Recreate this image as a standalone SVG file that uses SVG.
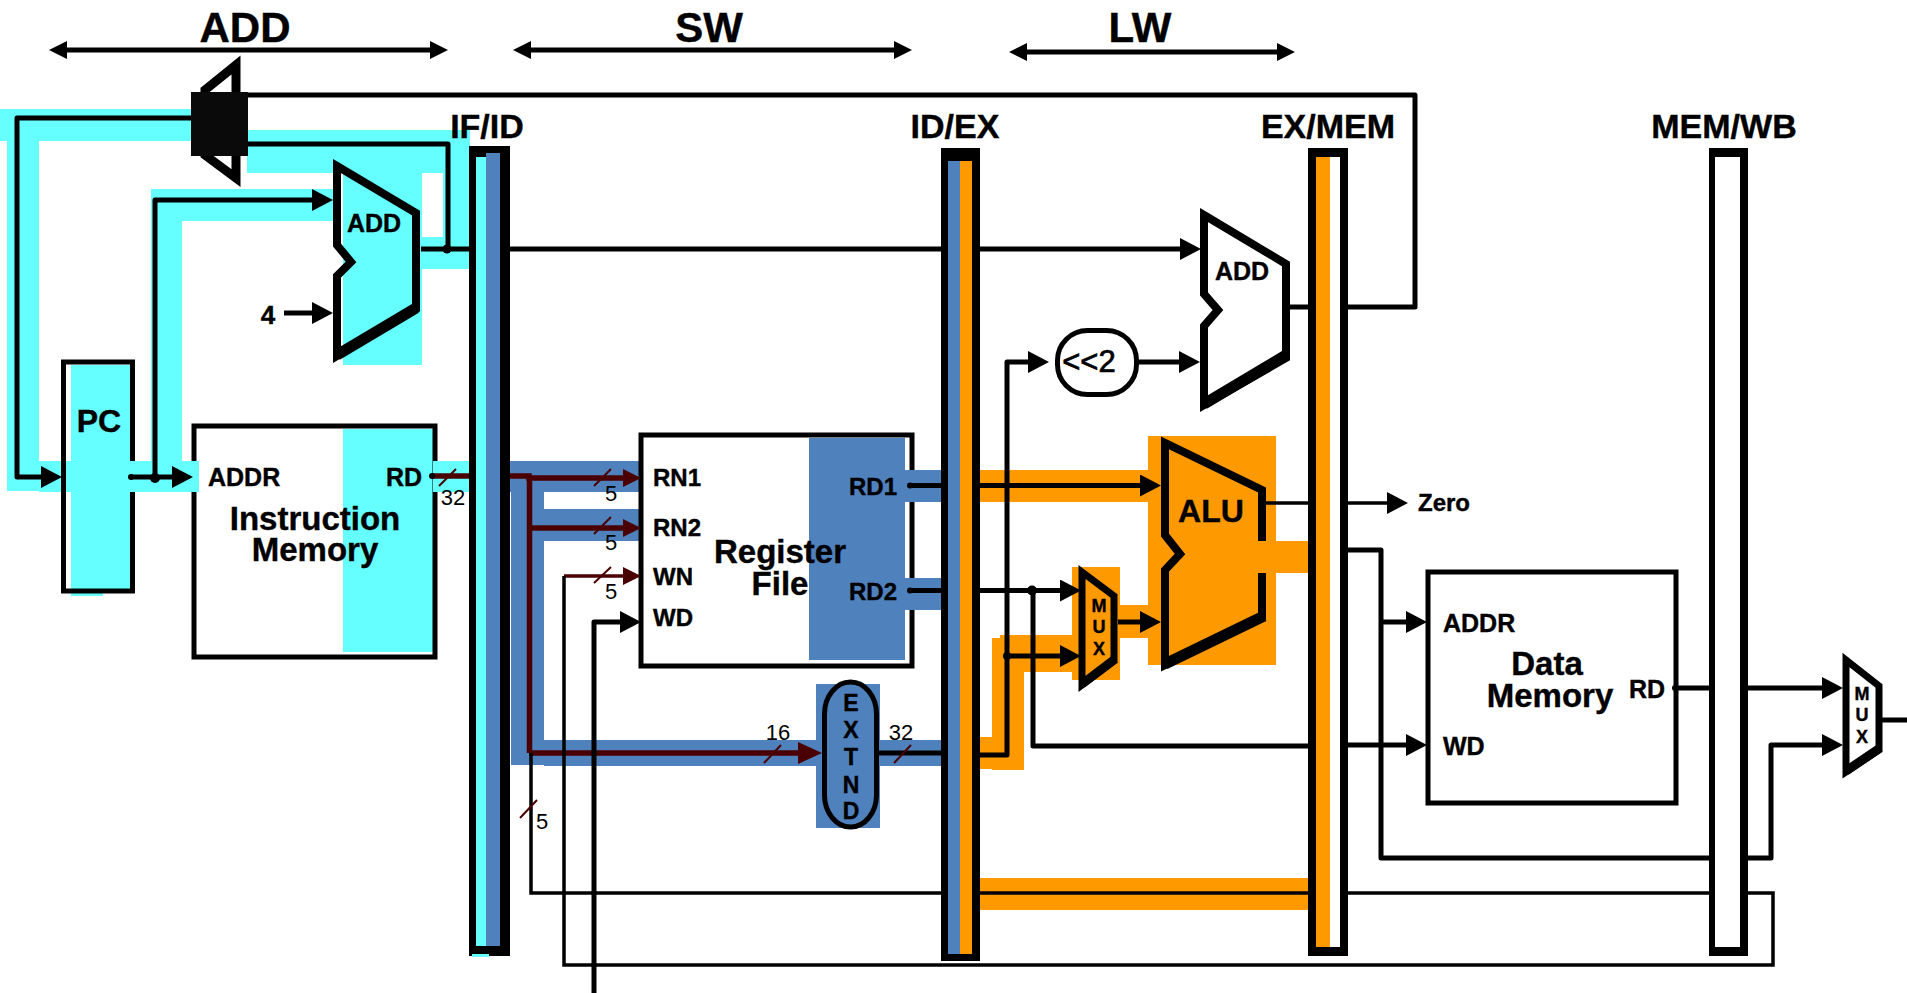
<svg xmlns="http://www.w3.org/2000/svg" width="1907" height="993" viewBox="0 0 1907 993">
<style>
text{font-family:"Liberation Sans",Arial,sans-serif;font-weight:700;fill:#000;stroke:#000;stroke-width:.4}
.m{text-anchor:middle}
.h{font-size:42px}.r{font-size:34px}.b{font-size:33px}.p{font-size:25px}.q{font-size:24px}.x{font-size:18px}.e{font-size:23px}
.n{font-size:22px;font-weight:400;stroke:none}
.c{fill:#66FFFF}.u{fill:#4F81BD}.o{fill:#FF9900}
.box{fill:none;stroke:#000;stroke-width:5}
.sh{fill:none;stroke:#000;stroke-width:8;stroke-linejoin:miter}
.th{fill:none;stroke:#000;stroke-width:11}
.w{fill:none;stroke:#000;stroke-width:5;stroke-linejoin:round;stroke-linecap:butt}
.t{fill:none;stroke:#000;stroke-width:3.5}
.d{fill:none;stroke:#4A0000;stroke-width:5.5}
.dt{fill:none;stroke:#4A0000;stroke-width:3.5}
.s{stroke:#4A0000;stroke-width:2;fill:none}
.a{marker-end:url(#ah)}
.ra{marker-end:url(#rh)}
</style>
<defs>
<marker id="ah" markerUnits="userSpaceOnUse" markerWidth="21" markerHeight="22" refX="0" refY="11" orient="auto"><path d="M0 0L21 11L0 22z" fill="#000"/></marker>
<marker id="rh" markerUnits="userSpaceOnUse" markerWidth="18" markerHeight="18" refX="0" refY="9" orient="auto"><path d="M0 0L18 9L0 18z" fill="#4A0000"/></marker>
<marker id="rb" markerUnits="userSpaceOnUse" markerWidth="24" markerHeight="22" refX="0" refY="11" orient="auto"><path d="M0 0L24 11L0 22z" fill="#4A0000"/></marker>
<marker id="tb" markerUnits="userSpaceOnUse" markerWidth="18" markerHeight="18" refX="0" refY="9" orient="auto-start-reverse"><path d="M0 0L18 9L0 18z" fill="#000"/></marker>
</defs>
<rect width="1907" height="993" fill="#fff"/>

<g id="highlights">
<rect class="c" x="0" y="109" width="192" height="32"/>
<rect class="c" x="7" y="141" width="32" height="350"/>
<rect class="c" x="39" y="461" width="90" height="31"/>
<rect class="c" x="71" y="365" width="60" height="226"/>
<rect class="c" x="71" y="591" width="32" height="5"/>
<rect class="c" x="151" y="189" width="184" height="32"/>
<rect class="c" x="151" y="221" width="31" height="240"/>
<rect class="c" x="247" y="130" width="223" height="43"/>
<rect class="c" x="443" y="173" width="27" height="96"/>
<rect class="c" x="343" y="173" width="79" height="192"/>
<rect class="c" x="422" y="237" width="30" height="32"/>
<rect class="c" x="343" y="429" width="90" height="223"/>
<rect class="u" x="511" y="492" width="33" height="273"/>
<rect class="u" x="510" y="461" width="130" height="31"/>
<rect class="u" x="544" y="509" width="96" height="32"/>
<rect class="u" x="544" y="740" width="272" height="26"/>
<rect class="u" x="809" y="438" width="96" height="222"/>
<rect class="u" x="880" y="740" width="61" height="26"/>
<rect class="u" x="816" y="684" width="64" height="144"/>
<rect class="o" x="980" y="470" width="168" height="32"/>
<rect class="o" x="980" y="737" width="44" height="32"/>
<rect class="o" x="992" y="638" width="32" height="132"/>
<rect class="o" x="1000" y="635" width="72" height="37"/>
<rect class="o" x="1072" y="567" width="48" height="113"/>
<rect class="o" x="1120" y="605" width="28" height="33"/>
<rect class="o" x="1148" y="436" width="128" height="229"/>
<rect class="o" x="1276" y="541" width="32" height="32"/>
<rect class="o" x="980" y="878" width="328" height="32"/>
</g>

<g id="pc">
<rect class="box" x="63.500" y="362" width="69" height="229"/>
<text class="m" x="99" y="432" font-size="32">PC</text>
</g>
<g id="instruction-memory">
<rect class="box" x="194" y="426" width="241" height="231"/>
<text class="p" x="208" y="486">ADDR</text>
<text class="p" x="386" y="486">RD</text>
<text class="b m" x="315" y="530">Instruction</text>
<text class="b m" x="315" y="561">Memory</text>
</g>
<g id="register-file">
<rect class="box" x="641" y="435" width="271" height="231"/>
<text class="q" x="653" y="486">RN1</text>
<text class="q" x="653" y="536">RN2</text>
<text class="q" x="653" y="585">WN</text>
<text class="q" x="653" y="626">WD</text>
<text class="b m" x="780" y="563">Register</text>
<text class="b m" x="780" y="595">File</text>
<text class="q" x="849" y="495">RD1</text>
<text class="q" x="849" y="600">RD2</text>
</g>

<g id="highlights-over">
<rect class="c" x="129" y="461" width="70" height="31"/>
<rect class="c" x="433" y="461" width="37" height="31"/>
<rect class="u" x="905" y="470" width="36" height="32"/>
<rect class="u" x="905" y="578" width="36" height="32"/>
</g>

<g id="connectors">
<path class="w" d="M67 50H430" marker-start="url(#tb)" marker-end="url(#tb)"/>
<path class="w" d="M531 50H894" marker-start="url(#tb)" marker-end="url(#tb)"/>
<path class="w" d="M1027 52H1277" marker-start="url(#tb)" marker-end="url(#tb)"/>
<path class="w" d="M245 95H1415V307H1340"/>
<path class="w" d="M1290 307H1310"/>
<path class="w a" d="M192 118H17V477H41"/>
<path class="w" d="M245 144H448V249"/>
<path class="w" d="M421 249H470"/>
<path class="w a" d="M505 249H1180"/>
<path class="w a" d="M155 477V200H312"/>
<path class="w a" d="M131 477H172"/>
<path class="w a" d="M284 313H312"/>
<path class="d" d="M432 476H510"/>
<path class="d ra" d="M505 476H529V478H623"/>
<path class="d ra" d="M530 528H623"/>
<path class="d" d="M529.500 476V753"/>
<path class="d" d="M529 753H798" marker-end="url(#rb)"/>
<path class="dt ra" d="M564 576H623"/>
<path class="t" d="M564 576V965H1773V893H531V753"/>
<path class="w a" d="M594 993V622H620"/>
<path class="w" d="M912 485.500H941"/>
<path class="w" d="M912 590.500H941"/>
<path class="w" d="M879 753H941"/>
<path class="w a" d="M975 485.500H1140"/>
<path class="w a" d="M975 590.500H1060"/>
<path class="w a" d="M975 755H1007V362H1028"/>
<path class="w a" d="M1007 656H1060"/>
<path class="w a" d="M1118 622H1140"/>
<path class="w a" d="M1139 362H1179"/>
<path class="w" d="M1033 590.500V746H1310"/>
<path class="w a" d="M1340 745H1406"/>
<path class="t" d="M1266 503H1310"/>
<path class="t a" d="M1340 503H1387"/>
<path class="w" d="M1340 550H1381V858H1710"/>
<path class="w a" d="M1381 622H1406"/>
<path class="w a" d="M1745 858H1771V745H1822"/>
<path class="w" d="M1676 688H1710"/>
<path class="w a" d="M1745 688H1822"/>
<path class="w" d="M1882 720H1907"/>
<path class="s" d="M439 486L456 469M594 486L611 469M594 534L611 517M594 583L611 567M520 818L537 800M764 763L781 745M894 763L911 745"/>
<circle cx="447" cy="249" r="4.500"/>
<circle cx="155" cy="478" r="5"/>
<circle cx="131" cy="477" r="3"/>
<circle cx="432" cy="476" r="3"/>
<circle cx="910" cy="485.500" r="3"/>
<circle cx="910" cy="590.500" r="3"/>
<circle cx="1032" cy="590.500" r="5"/>
<circle cx="1007" cy="656" r="4"/>
<circle cx="1675" cy="688" r="3"/>
</g>

<g id="labels">
<text class="h m" x="245" y="42">ADD</text>
<text class="h m" x="709" y="42">SW</text>
<text class="h m" x="1140" y="42">LW</text>
<text class="r m" x="487" y="138">IF/ID</text>
<text class="r m" x="955" y="138">ID/EX</text>
<text class="r m" x="1328" y="138">EX/MEM</text>
<text class="r m" x="1724" y="138">MEM/WB</text>
<text class="m" x="268" y="324" font-size="26">4</text>
<text class="n m" x="453" y="505">32</text>
<text class="n m" x="611" y="501">5</text>
<text class="n m" x="611" y="550">5</text>
<text class="n m" x="611" y="599">5</text>
<text class="n m" x="542" y="829">5</text>
<text class="n m" x="778" y="740">16</text>
<text class="n m" x="901" y="740">32</text>
<text x="1418" y="511" font-size="24">Zero</text>
</g>

<g id="if-id">
<rect x="469" y="146" width="41" height="810"/>
<rect class="c" x="476" y="157" width="10" height="789"/>
<rect class="u" x="486" y="153" width="14" height="793"/>
<rect class="c" x="472" y="954" width="17" height="3"/>
</g>
<g id="id-ex">
<rect x="941" y="148" width="39" height="813"/>
<rect class="u" x="948" y="161" width="12" height="793"/>
<rect class="o" x="960" y="161" width="12" height="793"/>
</g>
<g id="ex-mem">
<rect x="1308" y="148" width="40" height="808"/>
<rect class="o" x="1316" y="157" width="14" height="790"/>
<rect x="1330" y="157" width="10" height="790" fill="#fff"/>
</g>
<g id="mem-wb">
<rect x="1709" y="148" width="39" height="808"/>
<rect x="1715" y="157" width="25" height="790" fill="#fff"/>
</g>

<g id="pc-mux">
<path class="sh" style="stroke-width:9" d="M205 90L236 65V178L205 155z"/>
<rect x="191" y="92" width="57" height="64" fill="#0A0A0A"/>
</g>
<g id="pc-adder">
<path class="sh" d="M337 166L416 213V309L337 356V276L351 262L337 245z"/>
<path class="th" d="M337 355L416 308"/>
<text class="p m" x="374" y="232">ADD</text>
</g>
<g id="branch-adder">
<path class="sh" d="M1204 215L1286 264V358L1204 405V326L1218 310L1204 294z"/>
<path class="th" d="M1204 404L1286 355"/>
<text class="p m" x="1242" y="280">ADD</text>
</g>
<g id="shift-left">
<rect class="box" x="1057.500" y="330.500" width="79" height="64" rx="30" ry="30"/>
<text class="m" x="1089" y="372" font-size="31" style="font-weight:400;stroke-width:.7">&lt;&lt;2</text>
</g>
<g id="extend">
<rect class="box" x="824.500" y="682" width="52" height="145" rx="26" ry="32"/>
<text class="e m" x="851" y="711">E</text>
<text class="e m" x="851" y="738">X</text>
<text class="e m" x="851" y="765">T</text>
<text class="e m" x="851" y="793">N</text>
<text class="e m" x="851" y="819">D</text>
</g>
<g id="alu-mux">
<path class="sh" style="stroke-width:7" d="M1082 572L1114 596V661L1082 685z"/>
<path class="th" style="stroke-width:9" d="M1082 684L1115 659"/>
<text class="x m" x="1099" y="612">M</text>
<text class="x m" x="1099" y="633">U</text>
<text class="x m" x="1099" y="655">X</text>
</g>
<g id="alu">
<path class="sh" d="M1262 541V490L1165 443V535L1180 554L1165 570V665L1262 617V573"/>
<path class="th" d="M1165 664L1264 616"/>
<text class="m" x="1211" y="522" font-size="32">ALU</text>
</g>
<g id="data-memory">
<rect class="box" x="1428" y="572" width="248" height="231"/>
<text class="p" x="1443" y="632">ADDR</text>
<text class="p" x="1443" y="755">WD</text>
<text class="b m" x="1547" y="675">Data</text>
<text class="b m" x="1550" y="707">Memory</text>
<text class="p" x="1629" y="698">RD</text>
</g>
<g id="wb-mux">
<path class="sh" style="stroke-width:7" d="M1846 660L1879 686V750L1846 772z"/>
<path class="th" style="stroke-width:9" d="M1846 771L1880 748"/>
<text class="x m" x="1862" y="700">M</text>
<text class="x m" x="1862" y="721">U</text>
<text class="x m" x="1862" y="743">X</text>
</g>
</svg>
